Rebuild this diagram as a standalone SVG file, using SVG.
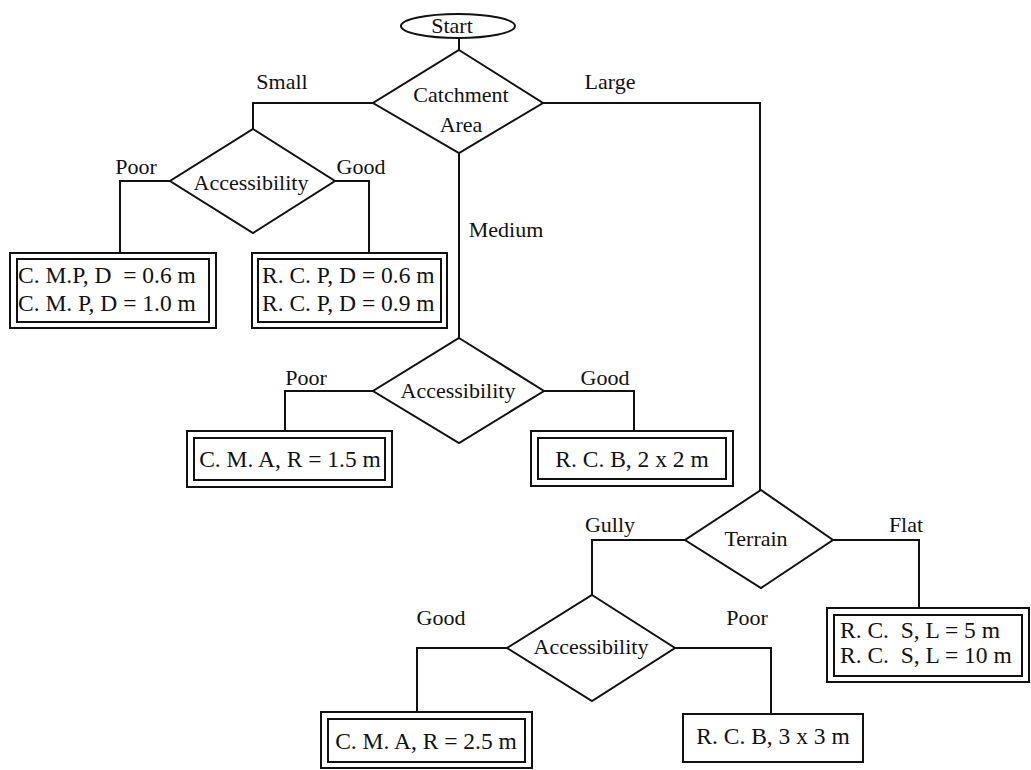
<svg xmlns="http://www.w3.org/2000/svg" width="1031" height="770" viewBox="0 0 1031 770">
<style>
  .shape{fill:#fff;stroke:#111;stroke-width:2}
  .box{fill:none;stroke:#111;stroke-width:2}
  .line{fill:none;stroke:#111;stroke-width:2}
  text{font-family:"Liberation Serif","Times New Roman",serif;fill:#111}
  .lbl{font-size:22px;text-anchor:middle}
  .bx{font-size:23.5px}
  .c{text-anchor:middle}
</style>
<rect width="1031" height="770" fill="#fff"/>
<g id="connectors">
  <path class="line" d="M459,38 V50"/>
  <path class="line" d="M373,103 H253 V129"/>
  <path class="line" d="M543,103 H760 V490"/>
  <path class="line" d="M459,153 V338"/>
  <path class="line" d="M170,181 H120 V253"/>
  <path class="line" d="M335,181 H369 V253"/>
  <path class="line" d="M373,391 H285 V431"/>
  <path class="line" d="M544,391 H634 V431"/>
  <path class="line" d="M685,540 H592 V595"/>
  <path class="line" d="M833,540 H919 V608"/>
  <path class="line" d="M507,648 H417 V712"/>
  <path class="line" d="M675,648 H771 V714"/>
  <text class="lbl" x="282" y="89">Small</text>
  <text class="lbl" x="610" y="89">Large</text>
  <text class="lbl" x="136" y="174">Poor</text>
  <text class="lbl" x="361" y="174">Good</text>
  <text class="lbl" x="506" y="237">Medium</text>
  <text class="lbl" x="306" y="385">Poor</text>
  <text class="lbl" x="605" y="385">Good</text>
  <text class="lbl" x="610" y="532">Gully</text>
  <text class="lbl" x="906" y="532">Flat</text>
  <text class="lbl" x="441" y="625">Good</text>
  <text class="lbl" x="747" y="625">Poor</text>
</g>
<g id="start">
  <ellipse class="shape" cx="458" cy="26" rx="57" ry="12"/>
  <text class="lbl" x="452" y="33">Start</text>
</g>
<g id="catchment">
  <polygon class="shape" points="459,50 543,103 459,153 373,103"/>
  <text class="lbl" x="461" y="102">Catchment</text>
  <text class="lbl" x="461" y="132">Area</text>
</g>
<g id="access1">
  <polygon class="shape" points="253,129 335,181 253,233 170,181"/>
  <text class="lbl" x="251" y="190">Accessibility</text>
</g>
<g id="box-cmp">
  <rect class="box" x="10" y="253" width="206" height="75"/>
  <rect class="box" x="17" y="259" width="192" height="63"/>
  <text class="bx" x="18" y="283" xml:space="preserve">C. M.P, D  = 0.6 m</text>
  <text class="bx" x="18" y="311">C. M. P, D = 1.0 m</text>
</g>
<g id="box-rcp">
  <rect class="box" x="252" y="253" width="195" height="75"/>
  <rect class="box" x="258" y="259" width="183" height="63"/>
  <text class="bx" x="262" y="283">R. C. P, D = 0.6 m</text>
  <text class="bx" x="262" y="311">R. C. P, D = 0.9 m</text>
</g>
<g id="access2">
  <polygon class="shape" points="459,338 544,391 459,443 373,391"/>
  <text class="lbl" x="458" y="398">Accessibility</text>
</g>
<g id="box-cma15">
  <rect class="box" x="187" y="431" width="205" height="56"/>
  <rect class="box" x="194" y="438" width="191" height="42"/>
  <text class="bx c" x="290" y="467">C. M. A, R = 1.5 m</text>
</g>
<g id="box-rcb2">
  <rect class="box" x="531" y="431" width="202" height="55"/>
  <rect class="box" x="538" y="438" width="188" height="41"/>
  <text class="bx c" x="632" y="467">R. C. B, 2 x 2 m</text>
</g>
<g id="terrain">
  <polygon class="shape" points="761,490 833,540 761,588 685,540"/>
  <text class="lbl" x="756" y="546">Terrain</text>
</g>
<g id="box-rcs">
  <rect class="box" x="827" y="608" width="202" height="74"/>
  <rect class="box" x="834" y="615" width="188" height="61"/>
  <text class="bx" x="840" y="638" xml:space="preserve">R. C.  S, L = 5 m</text>
  <text class="bx" x="840" y="663" xml:space="preserve">R. C.  S, L = 10 m</text>
</g>
<g id="access3">
  <polygon class="shape" points="592,595 675,648 592,701 507,648"/>
  <text class="lbl" x="591" y="654">Accessibility</text>
</g>
<g id="box-cma25">
  <rect class="box" x="321" y="712" width="211" height="56"/>
  <rect class="box" x="328" y="719" width="197" height="43"/>
  <text class="bx c" x="426" y="749">C. M. A, R = 2.5 m</text>
</g>
<g id="box-rcb3">
  <rect class="box" x="683" y="714" width="180" height="48"/>
  <text class="bx c" x="773" y="744">R. C. B, 3 x 3 m</text>
</g>
</svg>
